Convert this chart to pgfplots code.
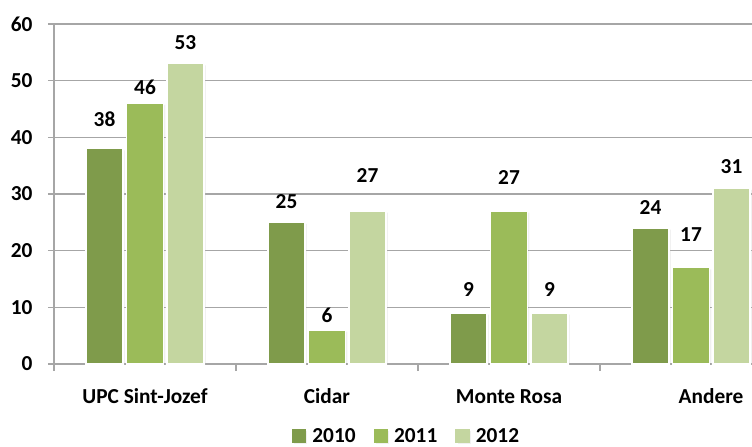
\documentclass[border=0pt]{standalone}
\usepackage{pgfplots}
\pgfplotsset{compat=1.18}
\usepackage{fontspec}
\setmainfont{Carlito}
\usetikzlibrary{shadows}
\definecolor{cA}{HTML}{7F9B4B}
\definecolor{cB}{HTML}{9BBB59}
\definecolor{cC}{HTML}{C4D6A0}
\definecolor{gridc}{HTML}{A6A6A6}
\newcommand{\lf}{\fontsize{16}{19}\selectfont\bfseries}
\begin{document}
\begin{tikzpicture}
\path[use as bounding box] (-40.5pt,-61.5pt) rectangle (523.5pt,273pt);
\begin{axis}[
  scale only axis, width=546pt, height=255pt,
  xmin=-0.5, xmax=3.5, ymin=0, ymax=60,
  axis x line*=bottom, axis y line*=left,
  axis line style={draw=gridc, line width=0.9pt, -},
  ytick={0,10,...,60},
  ymajorgrids, grid style={draw=gridc, line width=0.9pt},
  tick align=outside,
  major tick length=4.5pt,
  ytick style={draw=gridc, line width=0.9pt},
  xtick={0,1,2,3},
  xticklabels={UPC Sint-Jozef, Cidar, Monte Rosa, \hspace*{30pt}Andere},
  xtick style={draw=none},
  extra x ticks={-0.5,0.5,1.5,2.5,3.5},
  extra x tick labels={},
  extra x tick style={major tick length=5.25pt, xtick style={draw=gridc, line width=0.9pt}, grid=none},
  /pgf/number format/assume math mode=true,
  yticklabel style={anchor=east, inner sep=0pt, xshift=-11.5pt, font=\lf},
  xticklabel style={anchor=base, inner sep=0pt, yshift=-24.75pt, font=\lf},
  legend columns=3,
  legend style={at={(0.4828,-0.2118)}, anchor=center, draw=none, fill=none,
    inner sep=0pt, font=\lf,
    nodes={inner sep=0pt, anchor=west},
    /tikz/every odd column/.append style={column sep=4.5pt},
    /tikz/every even column/.append style={column sep=13.5pt}},
  bar width=0.205,
]
\addplot[ybar, bar shift=-0.2225, fill=cA, draw=white, line width=1.1pt,
  drop shadow={shadow xshift=1.2pt, shadow yshift=-1.2pt, opacity=0.12},
  legend image code/.code={\fill[cA] (0pt,-4.9pt) rectangle (9.75pt,4.9pt);}]
  coordinates {(0,38) (1,25) (2,9) (3,24)};
\addplot[ybar, bar shift=0, fill=cB, draw=white, line width=1.1pt,
  drop shadow={shadow xshift=1.2pt, shadow yshift=-1.2pt, opacity=0.12},
  legend image code/.code={\fill[cB] (0pt,-4.9pt) rectangle (9.75pt,4.9pt);}]
  coordinates {(0,46) (1,6) (2,27) (3,17)};
\addplot[ybar, bar shift=0.2225, fill=cC, draw=white, line width=1.1pt,
  drop shadow={shadow xshift=1.2pt, shadow yshift=-1.2pt, opacity=0.12},
  legend image code/.code={\fill[cC] (0pt,-4.9pt) rectangle (9.75pt,4.9pt);}]
  coordinates {(0,53) (1,27) (2,9) (3,31)};
\addplot[only marks, mark=*, mark size=0pt, mark options={draw=none, fill=none},
  nodes near coords, point meta=explicit symbolic,
  nodes near coords style={anchor=center, inner sep=0pt, font=\lf, text=black},
  forget plot]
  coordinates {
  (-0.2225,43.2) [38] (0,48.9) [46] (0.2225,56.8) [53]
  (0.7775,28.6) [25] (1,8.65) [6] (1.2225,33.2) [27]
  (1.7775,13.1) [9] (2,33.0) [27] (2.2225,13.1) [9]
  (2.7775,27.7) [24] (3,22.8) [17] (3.2225,34.8) [31]
  };
\legend{2010, 2011, 2012}
\end{axis}
\end{tikzpicture}
\end{document}
